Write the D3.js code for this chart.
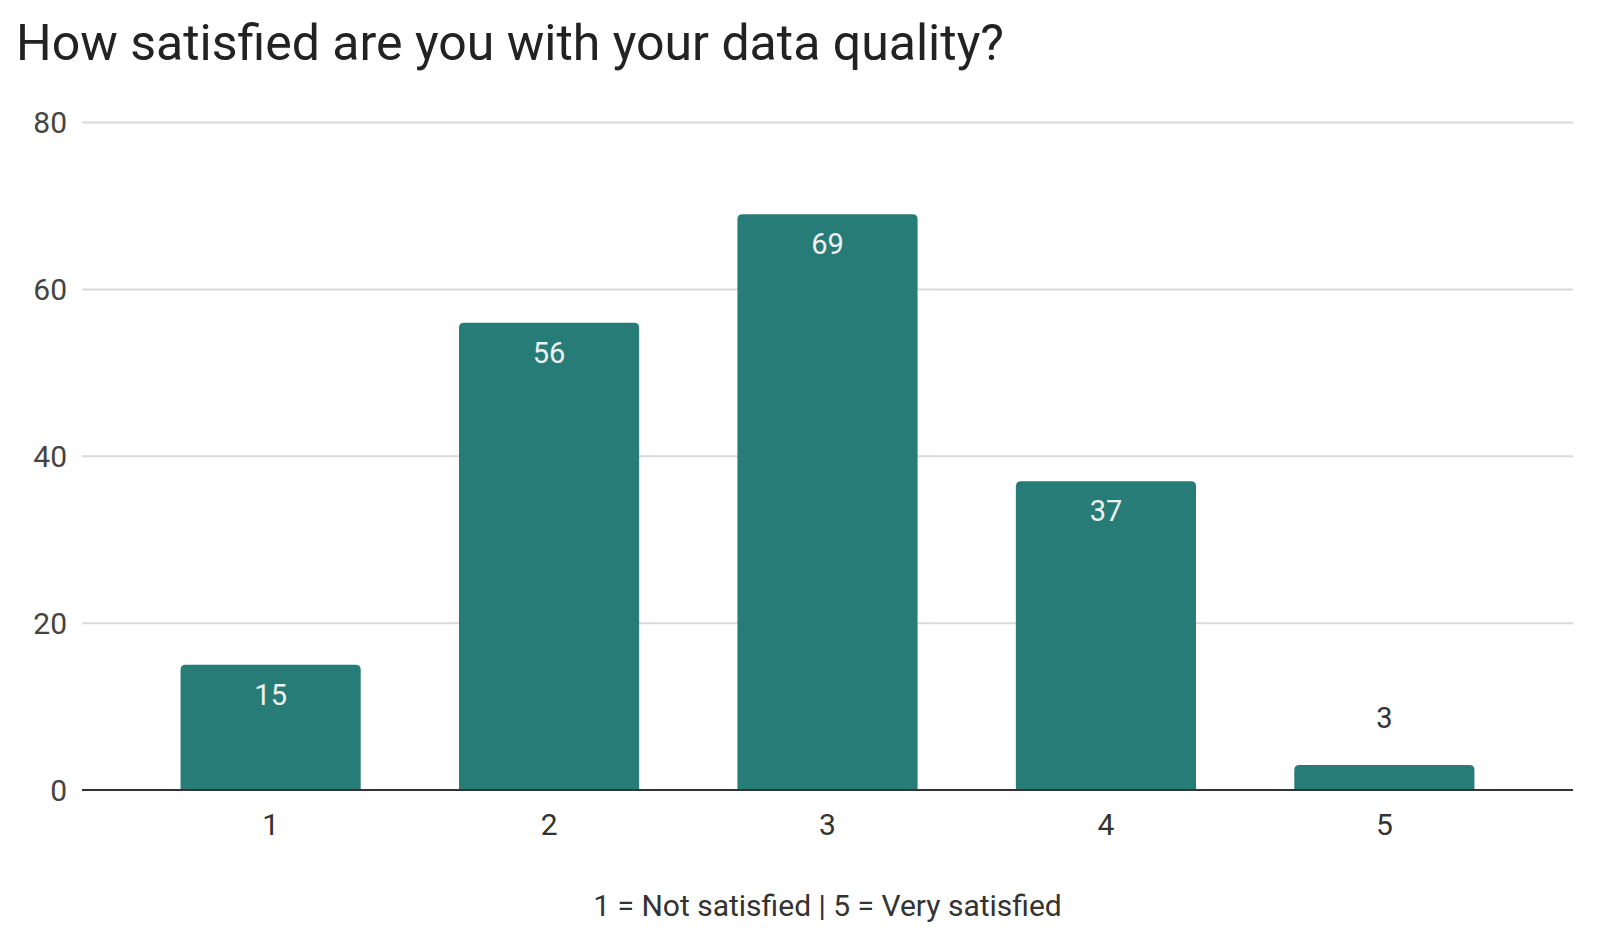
<!DOCTYPE html>
<html><head><meta charset="utf-8">
<script src="https://cdn.jsdelivr.net/npm/d3@7"></script>
<style>body{margin:0;background:#fff;}svg{display:block;font-family:Roboto,sans-serif;}</style>
</head><body>
<script>
const categories = ["1","2","3","4","5"];
const values = [15, 56, 69, 37, 3];
const yTicks = [0, 20, 40, 60, 80];
const title = "How satisfied are you with your data quality?";
const xTitle = "1 = Not satisfied | 5 = Very satisfied";

(function(){
const W = 1616, H = 946;
const pLeft = 82, pRight = 1573, pTop = 122.6, pBottom = 790;
const svg = d3.select("body").append("svg").attr("width", W).attr("height", H);

const x = d3.scaleBand().domain(categories).range([pLeft, pRight]).paddingInner(0.353).paddingOuter(0.354);
const y = d3.scaleLinear().domain([0, 80]).range([pBottom, pTop]);

svg.append("text").attr("x", 16).attr("y", 59.5).attr("font-size", 50).attr("fill", "#222").text(title);

svg.append("g").selectAll("line").data(yTicks.filter(d => d > 0)).join("line")
  .attr("x1", pLeft).attr("x2", pRight).attr("y1", d => y(d)).attr("y2", d => y(d))
  .attr("stroke", "#d9d9d9").attr("stroke-width", 2);

svg.append("g").selectAll("text").data(yTicks).join("text")
  .attr("x", 67).attr("y", d => y(d)).attr("dy", "0.355em").attr("text-anchor", "end")
  .attr("font-size", 30).attr("fill", "#444").text(d => d);

const r = 5;
function barPath(d, i) {
  const x0 = x(categories[i]), w = x.bandwidth(), y0 = y(d), y1 = y(0);
  return `M${x0},${y1}V${y0 + r}Q${x0},${y0} ${x0 + r},${y0}H${x0 + w - r}Q${x0 + w},${y0} ${x0 + w},${y0 + r}V${y1}Z`;
}
svg.append("g").selectAll("path").data(values).join("path")
  .attr("d", barPath).attr("fill", "#277c78");

svg.append("line").attr("x1", pLeft).attr("x2", pRight).attr("y1", y(0)).attr("y2", y(0))
  .attr("stroke", "#333").attr("stroke-width", 2);

svg.append("g").selectAll("text").data(values).join("text")
  .attr("x", (d, i) => x(categories[i]) + x.bandwidth() / 2)
  .attr("y", d => (y(0) - y(d) > 60) ? y(d) + 40 : y(d) - 37)
  .attr("text-anchor", "middle").attr("font-size", 29)
  .attr("fill", d => (y(0) - y(d) > 60) ? "#f0f0f0" : "#333")
  .text(d => d);

svg.append("g").selectAll("text").data(categories).join("text")
  .attr("x", d => x(d) + x.bandwidth() / 2).attr("y", 835)
  .attr("text-anchor", "middle").attr("font-size", 30).attr("fill", "#333").text(d => d);

svg.append("text").attr("x", (pLeft + pRight) / 2).attr("y", 916).attr("text-anchor", "middle")
  .attr("font-size", 30).attr("fill", "#333").text(xTitle);
})();
</script>
</body></html>
